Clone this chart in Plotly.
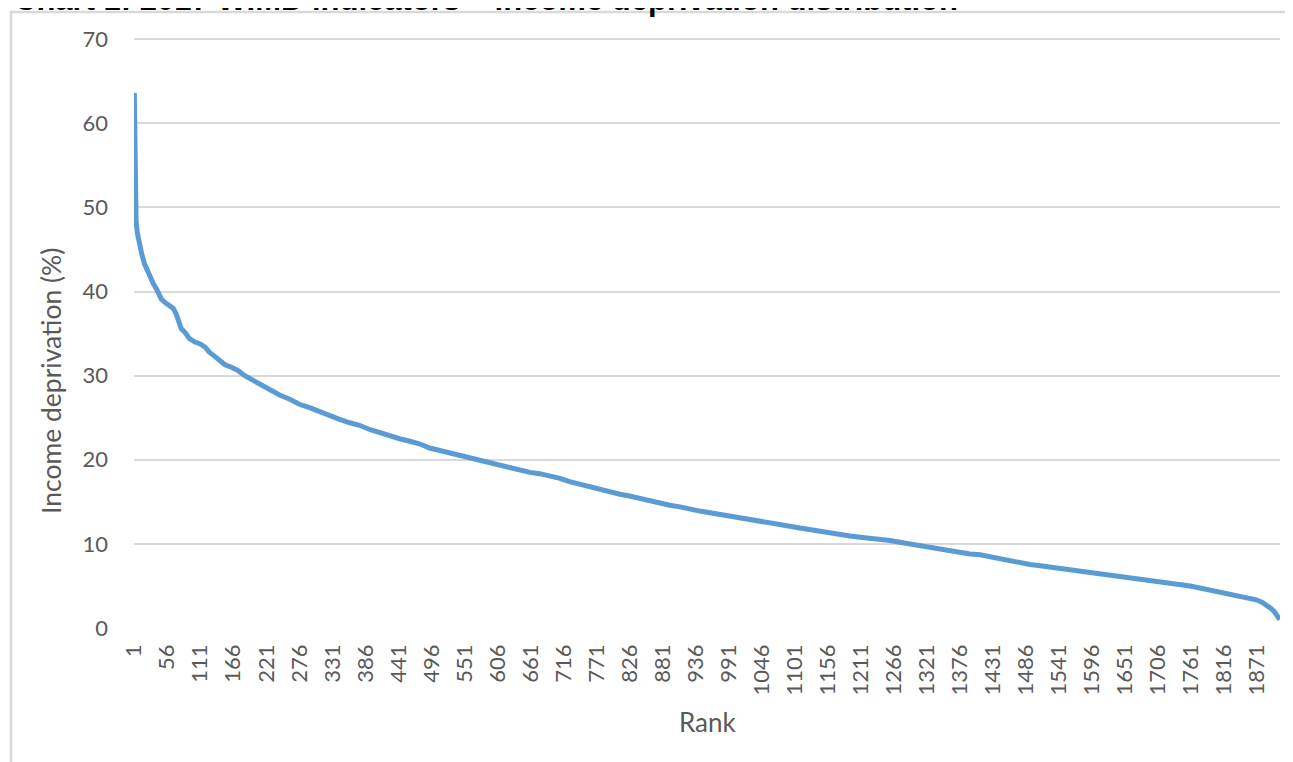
import plotly.graph_objects as go

ranks = [1, 2, 3, 4, 6, 8, 10, 13, 18, 24, 27, 33, 38, 46, 54, 60, 66, 71, 76, 79, 86, 93,
         102, 110, 119, 126, 135, 142, 152, 163, 174, 185, 197, 211, 230, 243, 260, 276, 293,
         310, 326, 343, 360, 376, 393, 410, 426, 443, 460, 476, 493, 510, 526, 543, 560, 576,
         593, 610, 626, 643, 660, 676, 693, 710, 726, 743, 760, 776, 793, 810, 826, 843, 860,
         876, 893, 910, 926, 943, 960, 976, 993, 1010, 1026, 1043, 1060, 1076, 1093, 1110,
         1126, 1143, 1160, 1176, 1193, 1210, 1226, 1243, 1260, 1276, 1293, 1310, 1326, 1343,
         1360, 1376, 1393, 1410, 1426, 1443, 1460, 1476, 1493, 1510, 1526, 1543, 1560, 1576,
         1593, 1610, 1626, 1643, 1660, 1676, 1693, 1710, 1726, 1743, 1760, 1776, 1793, 1810,
         1826, 1843, 1860, 1870, 1880, 1888, 1895, 1900, 1904, 1907, 1909]

income_deprivation = [63.6, 50.6, 49.5, 48.4, 47.0, 46.2, 45.6, 44.6, 43.3, 42.2, 41.7, 40.9,
                      40.3, 39.1, 38.6, 38.3, 38.0, 37.3, 36.4, 35.6, 35.1, 34.4, 34.0, 33.8,
                      33.4, 32.8, 32.3, 31.9, 31.3, 31.0, 30.6, 30.0, 29.5, 29.0, 28.2, 27.7,
                      27.2, 26.6, 26.2, 25.7, 25.2, 24.8, 24.4, 24.1, 23.6, 23.2, 22.8, 22.5,
                      22.2, 21.9, 21.4, 21.1, 20.8, 20.5, 20.2, 19.9, 19.6, 19.3, 19.0, 18.8,
                      18.5, 18.35, 18.1, 17.8, 17.4, 17.1, 16.8, 16.45, 16.1, 15.9, 15.7, 15.4,
                      15.1, 14.9, 14.6, 14.4, 14.1, 13.9, 13.7, 13.5, 13.2, 13.0, 12.8, 12.6,
                      12.4, 12.3, 12.1, 11.9, 11.7, 11.5, 11.3, 11.1, 10.95, 10.8, 10.7, 10.55,
                      10.4, 10.2, 10.0, 9.8, 9.6, 9.4, 9.1, 8.95, 8.8, 8.7, 8.45, 8.2, 8.0,
                      7.75, 7.55, 7.4, 7.25, 7.1, 6.9, 6.75, 6.6, 6.45, 6.25, 6.1, 6.0, 5.9,
                      5.75, 5.5, 5.3, 5.15, 5.0, 4.75, 4.5, 4.3, 4.1, 3.85, 3.6, 3.35, 3.05,
                      2.7, 2.3, 1.95, 1.6, 1.2, 1.0]

n_areas = 1909
x_tick_values = [1, 56, 111, 166, 221, 276, 331, 386, 441, 496, 551, 606, 661, 716, 771, 826,
                 881, 936, 991, 1046, 1101, 1156, 1211, 1266, 1321, 1376, 1431, 1486, 1541,
                 1596, 1651, 1706, 1761, 1816, 1871]
x_tick_labels = [str(v) for v in x_tick_values]
y_tick_values = [0, 10, 20, 30, 40, 50, 60, 70]

title_text = "Chart 1: 2017 WIMD indicators \u2013 income deprivation distribution"
y_title = "Income deprivation (%)"
x_title = "Rank"

# the page body adds an 8px offset; targets below are screen pixels
OFF = 8
W, H = 1293, 762
L = 134 - OFF
T = 38 - OFF
R = W - (1280 - OFF)
B = H - (628 - OFF)
pw, ph = W - L - R, H - T - B


def px(xs):
    return (xs - OFF - L) / pw


def py(ys):
    return (H - B - (ys - OFF)) / ph


font_fam = "Lato, Carlito, Calibri, sans-serif"
grey = "#595959"

fig = go.Figure()
fig.add_trace(go.Scatter(x=ranks, y=income_deprivation, mode="lines",
                         line=dict(color="#5B9BD5", width=5), showlegend=False))

fig.update_layout(
    width=W, height=H,
    margin=dict(l=L, r=R, t=T, b=B, pad=0),
    paper_bgcolor="white", plot_bgcolor="white",
    xaxis=dict(range=[0.5, n_areas + 0.5], tickmode="array", tickvals=x_tick_values,
               ticktext=x_tick_labels, tickangle=-90, showgrid=False, zeroline=False,
               showline=False, ticks="", ticklabelstandoff=11,
               tickfont=dict(family=font_fam, size=22, color=grey)),
    yaxis=dict(range=[0, 70.15], tickmode="array", tickvals=y_tick_values,
               showgrid=True, gridcolor="#d9d9d9", gridwidth=1.5, zeroline=False,
               showline=False, ticks="", ticklabelstandoff=25,
               tickfont=dict(family=font_fam, size=22, color=grey)),
    font=dict(family=font_fam, color=grey),
)

fig.add_shape(type="rect", xref="paper", yref="paper",
              x0=px(11), x1=px(1320), y0=py(790), y1=py(12),
              line=dict(color="#d9d9d9", width=2.5), fillcolor="rgba(0,0,0,0)", layer="below")

fig.add_annotation(text="<b>" + title_text + "</b>", xref="paper", yref="paper",
                   x=px(12), y=py(19), xanchor="left", yanchor="bottom", showarrow=False,
                   font=dict(family="Liberation Sans, Arial, sans-serif", size=31, color="black"))

fig.add_annotation(text=y_title, xref="paper", yref="paper", x=px(51), y=py(381),
                   xanchor="center", yanchor="middle", textangle=-90, showarrow=False,
                   font=dict(family=font_fam, size=26.5, color=grey))

fig.add_annotation(text=x_title, xref="paper", yref="paper", x=px(708), y=py(722),
                   xanchor="center", yanchor="middle", showarrow=False,
                   font=dict(family=font_fam, size=26, color=grey))

fig.write_html("out.html")
